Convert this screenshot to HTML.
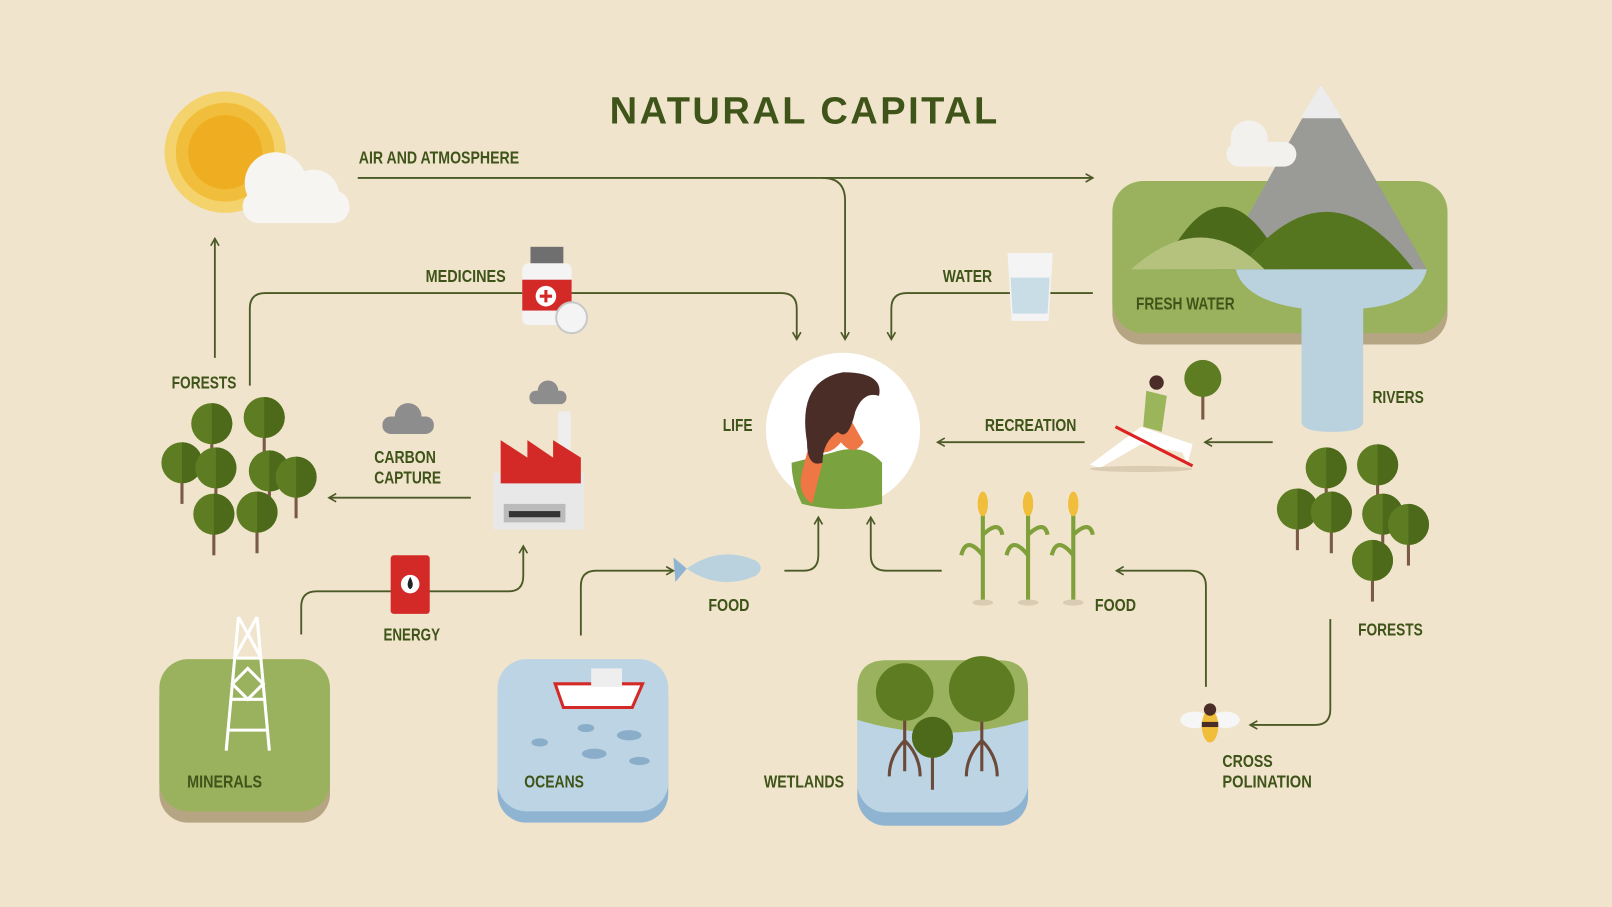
<!DOCTYPE html>
<html><head><meta charset="utf-8"><style>
html,body{margin:0;padding:0;background:#f1e4cd;}
svg{display:block;}
text{font-family:"Liberation Sans",sans-serif;font-weight:bold;fill:#3f5418;}
</style></head><body>
<svg width="1612" height="907" viewBox="0 0 1568 882" preserveAspectRatio="none" xmlns="http://www.w3.org/2000/svg">
<rect width="1568" height="882" fill="#f1e4cd"/>
<defs>
<marker id="a" markerWidth="10" markerHeight="10" refX="8" refY="5" orient="auto" markerUnits="userSpaceOnUse"><path d="M1,1 L8,5 L1,9" fill="none" stroke="#4b5a26" stroke-width="1.6"/></marker>
<g id="tree"><line x1="0" y1="0" x2="0" y2="40" stroke="#7a5a45" stroke-width="3"/><circle cx="0" cy="0" r="20" fill="#5e7d22"/><path d="M0,-20 A20,20 0 0,1 0,20 Z" fill="#4d6a1a"/></g>
</defs>
<text x="593" y="120" font-size="37" textLength="377" lengthAdjust="spacing" fill="#3d5217">NATURAL CAPITAL</text>

<g fill="none" stroke="#4b5a26" stroke-width="1.8">
<path d="M348,173 H1063" marker-end="url(#a)"/>
<path d="M800,173 Q822,173 822,195 V330" marker-end="url(#a)"/>
<path d="M243,375 V300 Q243,285 258,285 H760 Q775,285 775,300 V330" marker-end="url(#a)"/>
<path d="M1063,285 H882 Q867,285 867,300 V330" marker-end="url(#a)"/>
<path d="M209,348 V232" marker-end="url(#a)"/>
<path d="M1296,310 V396" marker-end="url(#a)"/>
<path d="M1055,430 H912" marker-end="url(#a)"/>
<path d="M1238,430 H1172" marker-end="url(#a)"/>
<path d="M458,484 H320" marker-end="url(#a)"/>
<path d="M293,617 V590 Q293,575 308,575 H495 Q509,575 509,560 V531" marker-end="url(#a)"/>
<path d="M565,618 V570 Q565,555 580,555 H655" marker-end="url(#a)"/>
<path d="M763,555 H782 Q796,555 796,540 V503" marker-end="url(#a)"/>
<path d="M916,555 H862 Q847,555 847,540 V503" marker-end="url(#a)"/>
<path d="M1173,668 V570 Q1173,555 1158,555 H1086" marker-end="url(#a)"/>
<path d="M1294,602 V690 Q1294,705 1279,705 H1216" marker-end="url(#a)"/>
</g>

<circle cx="219" cy="148" r="59" fill="#f4d36c"/><circle cx="219" cy="148" r="48" fill="#f0be3a"/><circle cx="219" cy="148" r="36" fill="#efae22"/>
<g fill="#f7f5f2"><circle cx="268" cy="178" r="30"/><circle cx="305" cy="190" r="25"/><rect x="236" y="185" width="104" height="32" rx="16"/></g>

<rect x="1082" y="187" width="326" height="148" rx="30" fill="#b6a583"/>
<rect x="1082" y="176" width="326" height="148" rx="30" fill="#9ab25e"/>
<polygon points="1285,82 1388,262 1185,262" fill="#9a9a96"/><polygon points="1285,82 1305,115 1265,115" fill="#ececec"/>
<path d="M1130,262 Q1190,140 1250,262Z" fill="#4b6a1a"/><path d="M1205,262 Q1290,150 1375,262Z" fill="#55761f"/>
<path d="M1100,262 Q1170,200 1230,262Z" fill="#b4c27e"/>
<g fill="#f3f1ee"><circle cx="1215" cy="135" r="18"/><rect x="1193" y="138" width="68" height="24" rx="12"/></g>
<path d="M1202,262 H1388 Q1380,295 1326,300 V410 Q1326,420 1296,420 Q1266,420 1266,410 V300 Q1210,292 1202,262Z" fill="#b9d2de"/>
<text x="1105" y="301" font-size="17" textLength="96" lengthAdjust="spacingAndGlyphs">FRESH WATER</text>

<g font-size="17">
<text x="349" y="159" textLength="156" lengthAdjust="spacingAndGlyphs">AIR AND ATMOSPHERE</text>
<text x="414" y="274" textLength="78" lengthAdjust="spacingAndGlyphs">MEDICINES</text>
<text x="917" y="274" textLength="48" lengthAdjust="spacingAndGlyphs">WATER</text>
<text x="167" y="378" textLength="63" lengthAdjust="spacingAndGlyphs">FORESTS</text>
<text x="364" y="450" textLength="60" lengthAdjust="spacingAndGlyphs">CARBON</text><text x="364" y="470" textLength="65" lengthAdjust="spacingAndGlyphs">CAPTURE</text>
<text x="703" y="419" textLength="29" lengthAdjust="spacingAndGlyphs">LIFE</text>
<text x="958" y="419" textLength="89" lengthAdjust="spacingAndGlyphs">RECREATION</text>
<text x="1335" y="392" textLength="50" lengthAdjust="spacingAndGlyphs">RIVERS</text>
<text x="373" y="623" textLength="55" lengthAdjust="spacingAndGlyphs">ENERGY</text>
<text x="689" y="594" textLength="40" lengthAdjust="spacingAndGlyphs">FOOD</text>
<text x="1065" y="594" textLength="40" lengthAdjust="spacingAndGlyphs">FOOD</text>
<text x="1321" y="618" textLength="63" lengthAdjust="spacingAndGlyphs">FORESTS</text>
<text x="1189" y="746" textLength="49" lengthAdjust="spacingAndGlyphs">CROSS</text><text x="1189" y="766" textLength="87" lengthAdjust="spacingAndGlyphs">POLINATION</text>
<text x="743" y="766" textLength="78" lengthAdjust="spacingAndGlyphs">WETLANDS</text>
</g>

<rect x="516" y="240" width="32" height="18" fill="#6f6f6f"/>
<rect x="508" y="256" width="48" height="60" rx="6" fill="#f4f4f4"/>
<rect x="508" y="272" width="48" height="30" fill="#d42a27"/>
<circle cx="531" cy="288" r="10" fill="#fff"/><path d="M531,282 V294 M525,288 H537" stroke="#d42a27" stroke-width="3"/>
<circle cx="556" cy="309" r="15" fill="#f4f4f4" stroke="#c9c9c9" stroke-width="2"/>
<path d="M980,246 H1024 L1020,312 H984Z" fill="#f4f4f4"/><path d="M983,270 H1021 L1019,305 H985Z" fill="#c9dde6"/>

<circle cx="820" cy="418" r="75" fill="#fff"/>
<path d="M770,450 Q770,470 780,490 Q820,500 858,490 L858,450 Q840,430 810,440Z" fill="#7aa23e"/>
<path d="M785,440 Q800,420 800,450 L790,490 Q775,480 780,460Z" fill="#ef7645"/>
<path d="M800,440 Q805,400 820,395 L840,430 Q830,445 818,430 Q810,440 800,440Z" fill="#ef7645"/>
<path d="M785,430 Q775,370 820,362 Q860,362 855,385 Q840,380 832,400 Q825,430 815,420 Q800,430 800,450 Q785,455 785,430Z" fill="#4a2d26"/>

<circle cx="1125" cy="372" r="7" fill="#4a2d26"/>
<path d="M1115,380 L1135,385 L1130,420 L1112,415Z" fill="#9ab55a"/>
<path d="M1060,452 L1110,415 L1160,432 L1155,452 L1150,440 L1110,432 L1070,455Z" fill="#fff"/>
<line x1="1085" y1="415" x2="1160" y2="453" stroke="#d22" stroke-width="3"/>
<ellipse cx="1110" cy="456" rx="50" ry="3" fill="#d9ccb3"/>
<g transform="translate(1170,368)"><line x1="0" y1="0" x2="0" y2="40" stroke="#7a5a45" stroke-width="3"/><circle r="18" fill="#5e7d22"/></g>

<g>
<use href="#tree" x="206" y="412"/><use href="#tree" x="257" y="406"/><use href="#tree" x="177" y="450"/><use href="#tree" x="210" y="455"/><use href="#tree" x="262" y="458"/><use href="#tree" x="288" y="464"/><use href="#tree" x="250" y="498"/><use href="#tree" x="208" y="500"/>
</g>
<g>
<use href="#tree" x="1290" y="455"/><use href="#tree" x="1340" y="452"/><use href="#tree" x="1262" y="495"/><use href="#tree" x="1295" y="498"/><use href="#tree" x="1345" y="500"/><use href="#tree" x="1370" y="510"/><use href="#tree" x="1335" y="545"/>
</g>

<g fill="#8d8d8d"><circle cx="397" cy="405" r="13"/><rect x="372" y="405" width="50" height="17" rx="8"/></g>
<g fill="#8d8d8d"><circle cx="533" cy="380" r="10"/><rect x="515" y="380" width="36" height="13" rx="6"/></g>
<rect x="543" y="400" width="12" height="50" fill="#eee"/>
<rect x="480" y="460" width="88" height="55" fill="#e8e8e8"/>
<polygon points="487,470 487,428 513,445 513,428 538,445 538,428 565,445 565,470" fill="#d42a27"/>
<rect x="490" y="490" width="60" height="18" fill="#bbb"/><rect x="495" y="497" width="50" height="6" fill="#333"/>

<rect x="380" y="540" width="38" height="57" rx="3" fill="#d42a27"/>
<circle cx="399" cy="568" r="9" fill="#fff"/><path d="M399,561 Q394,570 399,573 Q404,570 399,561Z" fill="#222"/>

<rect x="155" y="652" width="166" height="148" rx="28" fill="#b6a583"/>
<rect x="155" y="641" width="166" height="148" rx="28" fill="#9ab25e"/>
<g stroke="#fff" stroke-width="3" fill="none"><path d="M232,600 L220,730 M250,600 L262,730 M228,640 H254 M225,680 H258 M222,710 H261 M232,600 L254,640 M250,600 L228,640"/><path d="M241,650 L256,665 L241,680 L226,665Z"/></g>
<text x="182" y="766" font-size="17" textLength="73" lengthAdjust="spacingAndGlyphs">MINERALS</text>

<rect x="484" y="652" width="166" height="148" rx="28" fill="#8fb4d2"/>
<rect x="484" y="641" width="166" height="148" rx="28" fill="#bcd4e3"/>
<path d="M540,665 H625 L615,688 H548Z" fill="#fff" stroke="#d42a27" stroke-width="3"/><rect x="575" y="650" width="30" height="18" fill="#eee"/>
<g fill="#8aaec9"><ellipse cx="570" cy="708" rx="8" ry="4"/><ellipse cx="612" cy="715" rx="12" ry="5"/><ellipse cx="525" cy="722" rx="8" ry="4"/><ellipse cx="578" cy="733" rx="12" ry="5"/><ellipse cx="622" cy="740" rx="10" ry="4"/></g>
<text x="510" y="766" font-size="17" textLength="58" lengthAdjust="spacingAndGlyphs">OCEANS</text>

<rect x="834" y="655" width="166" height="148" rx="28" fill="#8fb4d2"/>
<rect x="834" y="642" width="166" height="148" rx="28" fill="#bcd4e3"/>
<path d="M834,700 V670 Q834,642 862,642 H972 Q1000,642 1000,670 V700 Q917,725 834,700Z" fill="#9ab25e"/>
<g stroke="#6b4a3a" stroke-width="3" fill="none"><path d="M880,680 V750 M880,720 Q865,735 865,755 M880,720 Q895,735 895,755 M955,680 V750 M955,720 Q940,735 940,755 M955,720 Q970,735 970,755 M907,715 V768"/></g>
<circle cx="880" cy="673" r="28" fill="#5e7d22"/><circle cx="955" cy="670" r="32" fill="#5e7d22"/><circle cx="907" cy="717" r="20" fill="#4d6a1a"/>

<path d="M668,553 Q700,530 735,545 Q745,552 735,560 Q700,575 668,553Z" fill="#b9d2de"/><path d="M668,553 L655,542 L657,566Z" fill="#8fb4d2"/>
<g><g stroke="#7fa03a" stroke-width="4" fill="none"><path d="M956,480 V585 M1000,480 V585 M1044,480 V585"/><path d="M956,540 Q940,520 935,540 M956,520 Q972,505 975,520 M1000,540 Q984,520 979,540 M1000,520 Q1016,505 1019,520 M1044,540 Q1028,520 1023,540 M1044,520 Q1060,505 1063,520"/></g>
<g fill="#f0be3a"><ellipse cx="956" cy="490" rx="5" ry="12"/><ellipse cx="1000" cy="490" rx="5" ry="12"/><ellipse cx="1044" cy="490" rx="5" ry="12"/></g>
<g fill="#d9ccb3"><ellipse cx="956" cy="586" rx="10" ry="3"/><ellipse cx="1000" cy="586" rx="10" ry="3"/><ellipse cx="1044" cy="586" rx="10" ry="3"/></g></g>
<ellipse cx="1162" cy="700" rx="14" ry="8" fill="#f6f6f6"/><ellipse cx="1192" cy="700" rx="14" ry="8" fill="#f6f6f6"/>
<ellipse cx="1177" cy="706" rx="8" ry="16" fill="#f0be3a"/><rect x="1169" y="702" width="16" height="5" fill="#4a2d26"/><circle cx="1177" cy="690" r="6" fill="#4a2d26"/>
</svg>
</body></html>
